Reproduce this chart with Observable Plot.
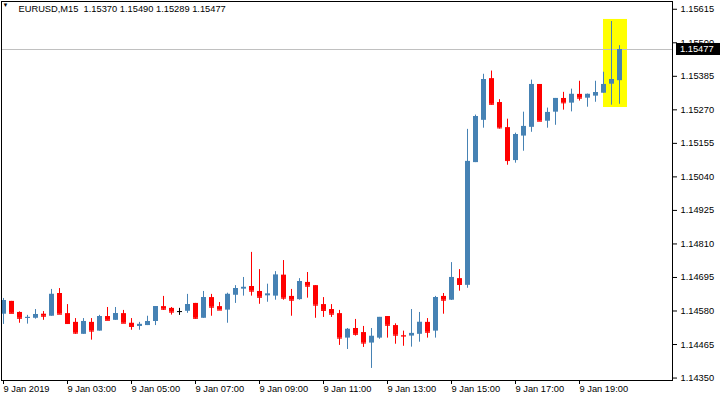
<!DOCTYPE html>
<html>
<head>
<meta charset="utf-8">
<script src="https://cdn.jsdelivr.net/npm/d3@7"></script>
<script src="https://cdn.jsdelivr.net/npm/@observablehq/plot@0.6"></script>
<style>
  html, body { margin: 0; padding: 0; background: #fff; }
  #chart svg { display: block; }
</style>
</head>
<body>
<div id="chart"></div>
<script>
const symbol = "EURUSD,M15";

const open = [
  1.14569, 1.14613, 1.14575, 1.14555, 1.14555, 1.14569, 1.14562, 1.14640, 1.14571, 1.14541,
  1.14500, 1.14541, 1.14511, 1.14561, 1.14548, 1.14571, 1.14538, 1.14527, 1.14530, 1.14544,
  1.14595, 1.14589, 1.14578, 1.14579, 1.14606, 1.14555, 1.14626, 1.14595, 1.14583, 1.14634,
  1.14655, 1.14664, 1.14647, 1.14632, 1.14631, 1.14703, 1.14630, 1.14619, 1.14678, 1.14667,
  1.14602, 1.14585, 1.14571, 1.14487, 1.14520, 1.14506, 1.14470, 1.14487, 1.14561, 1.14530,
  1.14496, 1.14494, 1.14500, 1.14541, 1.14511, 1.14630, 1.14617, 1.14691, 1.14668, 1.15089,
  1.15234, 1.15377, 1.15295, 1.15209, 1.15096, 1.15180, 1.15210, 1.15357, 1.15231, 1.15262,
  1.15309, 1.15293, 1.15323, 1.15310, 1.15317, 1.15327, 1.15358, 1.15370
];
const high = [
  1.14623, 1.14613, 1.14577, 1.14565, 1.14585, 1.14578, 1.14654, 1.14657, 1.14602, 1.14554,
  1.14554, 1.14554, 1.14565, 1.14592, 1.14592, 1.14582, 1.14554, 1.14541, 1.14562, 1.14595,
  1.14630, 1.14592, 1.14589, 1.14637, 1.14606, 1.14647, 1.14637, 1.14609, 1.14641, 1.14667,
  1.14695, 1.14781, 1.14722, 1.14672, 1.14715, 1.14753, 1.14654, 1.14691, 1.14712, 1.14667,
  1.14626, 1.14602, 1.14582, 1.14520, 1.14551, 1.14527, 1.14520, 1.14558, 1.14561, 1.14536,
  1.14511, 1.14585, 1.14575, 1.14554, 1.14630, 1.14640, 1.14746, 1.14722, 1.15203, 1.15252,
  1.15392, 1.15403, 1.15305, 1.15238, 1.15190, 1.15262, 1.15372, 1.15357, 1.15276, 1.15309,
  1.15330, 1.15341, 1.15368, 1.15324, 1.15368, 1.15399, 1.15573, 1.15490
];
const low = [
  1.14534, 1.14571, 1.14538, 1.14535, 1.14552, 1.14548, 1.14562, 1.14569, 1.14534, 1.14500,
  1.14500, 1.14480, 1.14511, 1.14548, 1.14548, 1.14538, 1.14514, 1.14514, 1.14530, 1.14530,
  1.14582, 1.14566, 1.14565, 1.14572, 1.14552, 1.14555, 1.14562, 1.14583, 1.14538, 1.14606,
  1.14631, 1.14631, 1.14603, 1.14610, 1.14617, 1.14617, 1.14562, 1.14617, 1.14624, 1.14555,
  1.14558, 1.14558, 1.14462, 1.14448, 1.14494, 1.14455, 1.14383, 1.14483, 1.14487, 1.14466,
  1.14459, 1.14456, 1.14473, 1.14487, 1.14487, 1.14569, 1.14616, 1.14648, 1.14658, 1.15089,
  1.15207, 1.15286, 1.15204, 1.15080, 1.15087, 1.15128, 1.15193, 1.15231, 1.15207, 1.15217,
  1.15269, 1.15263, 1.15300, 1.15279, 1.15296, 1.15327, 1.15286, 1.15289
];
const close = [
  1.14616, 1.14572, 1.14555, 1.14558, 1.14568, 1.14562, 1.14637, 1.14569, 1.14537, 1.14504,
  1.14544, 1.14511, 1.14561, 1.14548, 1.14571, 1.14538, 1.14527, 1.14534, 1.14544, 1.14595,
  1.14586, 1.14576, 1.14578, 1.14602, 1.14555, 1.14626, 1.14593, 1.14583, 1.14637, 1.14657,
  1.14661, 1.14648, 1.14627, 1.14638, 1.14703, 1.14624, 1.14617, 1.14681, 1.14665, 1.14600,
  1.14582, 1.14569, 1.14487, 1.14517, 1.14500, 1.14470, 1.14493, 1.14558, 1.14531, 1.14497,
  1.14494, 1.14503, 1.14541, 1.14507, 1.14626, 1.14617, 1.14695, 1.14671, 1.15093, 1.15247,
  1.15374, 1.15289, 1.15208, 1.15096, 1.15185, 1.15213, 1.15357, 1.15231, 1.15261, 1.15309,
  1.15294, 1.15323, 1.15310, 1.15323, 1.15329, 1.15357, 1.15374, 1.15477
];

const xTickBars = [0, 8, 16, 24, 32, 40, 48, 56, 64, 72];
const xTickLabels = [
  "9 Jan 2019", "9 Jan 03:00", "9 Jan 05:00", "9 Jan 07:00", "9 Jan 09:00",
  "9 Jan 11:00", "9 Jan 13:00", "9 Jan 15:00", "9 Jan 17:00", "9 Jan 19:00"
];
const yTicks = [
  1.14350, 1.14465, 1.14580, 1.14695, 1.14810, 1.14925,
  1.15040, 1.15155, 1.15270, 1.15385, 1.15500, 1.15615
];
const highlightBars = [75, 78];
const highlightPrices = [1.15278, 1.15580];

const upColor = "#4682B4", downColor = "#FF0000", flatColor = "#000000";
const last = open.length - 1;
const lastPrice = close[last];

const candles = open.map((o, i) => ({
  i, open: o, high: high[i], low: low[i], close: close[i],
  color: close[i] > o ? upColor : close[i] < o ? downColor : flatColor
}));

const font = "'Liberation Sans', Arial, sans-serif";
const fs = 9.3;
const nb = "\u00A0";
const title = `${symbol}${nb}${nb}${open[last].toFixed(5)} ${high[last].toFixed(5)} ${low[last].toFixed(5)} ${close[last].toFixed(5)}`;

const chart = Plot.plot({
  width: 720,
  height: 400,
  marginLeft: 1,
  marginTop: 1,
  marginRight: 48,
  marginBottom: 20,
  style: { fontFamily: font, fontSize: fs + "px", color: "#000", background: "#fff" },
  x: { type: "linear", domain: [-0.25, 83.625] },
  y: { type: "linear", domain: [1.143416, 1.156416] },
  color: { type: "identity" },
  marks: [
    Plot.rect([highlightBars], {
      x1: d => d[0], x2: d => d[1],
      y1: () => highlightPrices[0], y2: () => highlightPrices[1],
      fill: "#FFFF00"
    }),
    Plot.ruleY([lastPrice], { stroke: "#C0C0C0" }),
    Plot.ruleX(candles, { x: "i", y1: "low", y2: "high", stroke: "color" }),
    Plot.rect(candles, {
      x1: d => d.i - 0.25, x2: d => d.i + 0.375,
      y1: "open", y2: "close", fill: "color"
    }),
    Plot.ruleY(candles, {
      y: "close", x1: d => d.i - 0.25, x2: d => d.i + 0.375, stroke: "color"
    }),
    Plot.frame({ stroke: "#000" }),
    Plot.axisY({
      anchor: "right", ticks: yTicks, tickFormat: d => d.toFixed(5),
      tickSize: 4, tickPadding: 4, label: null, fontSize: fs
    }),
    Plot.axisX({
      ticks: xTickBars, tickFormat: d => xTickLabels[xTickBars.indexOf(d)],
      tickSize: 4, tickPadding: 1, textAnchor: "start", label: null, fontSize: fs
    }),
    Plot.text(["\u25BC"], {
      frameAnchor: "top-left", dx: 1, dy: 1.5, lineAnchor: "top",
      textAnchor: "start", fontSize: 6, fill: "#000"
    }),
    Plot.text([title], {
      frameAnchor: "top-left", dx: 17, dy: 3.4, lineAnchor: "top",
      textAnchor: "start", fontSize: fs, fill: "#000"
    })
  ]
});

document.getElementById("chart").appendChild(chart);

// current price label box on the right axis, positioned via Plot's own scales
const yS = chart.scale("y");
const xS = chart.scale("x");
const py = yS.apply(lastPrice);
const axisX0 = xS.range[1];
const svg = d3.select(chart);
const g = svg.append("g").attr("text-anchor", "start");
g.append("rect")
  .attr("x", axisX0 + 4)
  .attr("y", py - 6)
  .attr("width", 44)
  .attr("height", 12)
  .attr("fill", "#000");
g.append("text")
  .attr("x", axisX0 + 8)
  .attr("y", py)
  .attr("dy", "0.35em")
  .attr("text-anchor", "start")
  .attr("fill", "#fff")
  .attr("font-family", font)
  .attr("font-size", fs)
  .text(lastPrice.toFixed(5));
</script>
</body>
</html>
